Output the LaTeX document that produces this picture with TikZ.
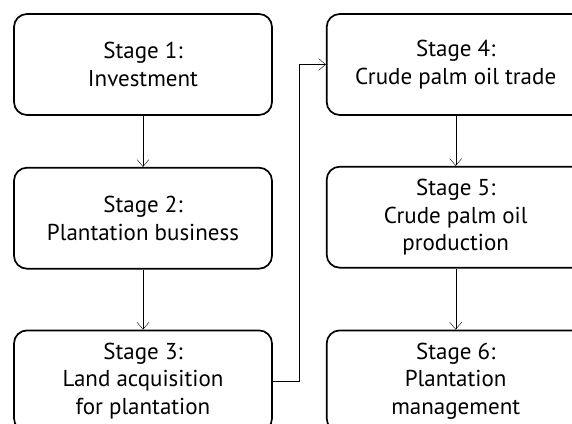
\documentclass[tikz,border=0pt]{standalone}
\usepackage{fontspec}
\setmainfont{PT Sans}
\usetikzlibrary{positioning,arrows.meta}

\begin{document}
\begin{tikzpicture}[node distance={51pt}, main/.style = {draw, line width=1.7pt, rounded corners=13pt, minimum width=258pt, minimum height=101pt, align=center, font=\fontsize{23}{27.5}\selectfont}, >={Straight Barb[length=7pt,width=12pt]}]
\useasboundingbox (0,0) rectangle (572pt,-423pt);
\node[main] (1) at (143pt,-64.5pt) {Stage 1:\\Investment};
\node[main] (2) [below=of 1] {Stage 2:\\Plantation business};
\node[main] (3) [below=60pt of 2] {Stage 3:\\Land acquisition\\for plantation};
\node[main] (4) [right=53pt of 1] {Stage 4:\\Crude palm oil trade};
\node[main] (5) [below=50pt of 4] {Stage 5:\\Crude palm oil\\production};
\node[main] (6) [below=61pt of 5] {Stage 6:\\Plantation\\management};
\draw[->] (1) -- (2);
\draw[->] (2) -- (3);
\draw[->] (3.east) -- ++(26.5pt,0) |- (4.west);
\draw[->] (4) -- (5);
\draw[->] (5) -- (6);
\end{tikzpicture}
\end{document}
